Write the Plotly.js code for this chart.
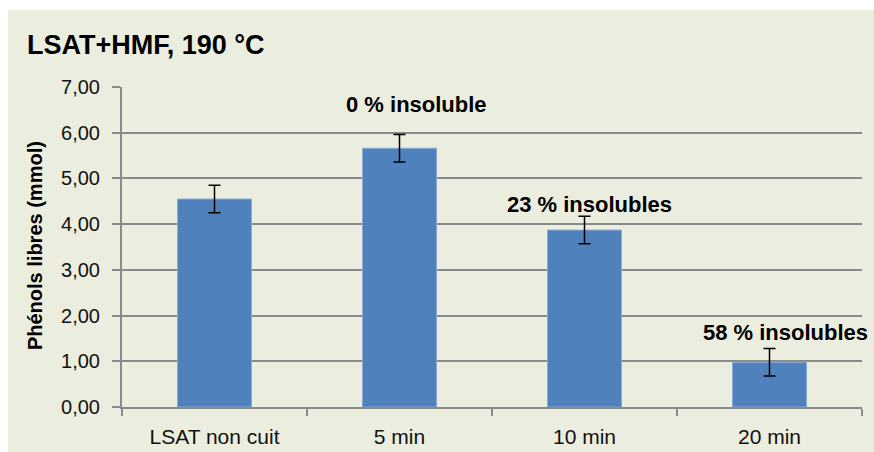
<!DOCTYPE html>
<html>
<head>
<meta charset="utf-8">
<script src="https://cdn.plot.ly/plotly-3.0.1.min.js"></script>
<style>
  html, body { margin: 0; padding: 0; background: #ffffff; }
  #wrap { position: absolute; left: 0; top: 0; width: 874px; height: 452px; background: #ffffff; }
  #chart { position: absolute; left: 8px; top: 10px; width: 866px; height: 442px; }
</style>
</head>
<body>
<div id="wrap"><div id="chart"></div></div>
<script>
const categories = ["LSAT non cuit", "5 min", "10 min", "20 min"];
const phenols = [4.55, 5.66, 3.87, 0.98];
const errors = [0.30, 0.30, 0.30, 0.30];
const noteLabels = ["0 % insoluble", "23 % insolubles", "58 % insolubles"];
const noteCategories = ["5 min", "10 min", "20 min"];
const noteValues = [6.62, 4.43, 1.63];
const noteShift = [17, 5, 16];
const yTicks = [0, 1, 2, 3, 4, 5, 6, 7];

const font = "Liberation Sans, Arial, sans-serif";
const bg = "#EBEDDE";

const trace = {
  type: "bar",
  x: categories,
  y: phenols,
  width: 0.4,
  marker: { color: "#4F81BD", line: { color: "#8AAAD6", width: 1 } },
  error_y: { type: "data", array: errors, visible: true, color: "#000000", thickness: 1.5, width: 6 },
  hoverinfo: "none"
};

const annotations = noteLabels.map((t, i) => ({
  text: "<b>" + t + "</b>",
  x: noteCategories[i], y: noteValues[i], xref: "x", yref: "y",
  xshift: noteShift[i],
  showarrow: false, xanchor: "center", yanchor: "middle",
  font: { family: font, size: 22, color: "#000000" }
}));
annotations.push({
  text: "<b>Phénols libres (mmol)</b>",
  xref: "paper", yref: "paper", x: -0.1176, y: 0.506,
  textangle: -90, showarrow: false, xanchor: "center", yanchor: "middle",
  font: { family: font, size: 20, color: "#000000" }
});

const layout = {
  width: 866, height: 442,
  margin: { l: 114, r: 12, t: 77, b: 45, pad: 0, autoexpand: false },
  paper_bgcolor: bg, plot_bgcolor: bg,
  separators: ", ",
  showlegend: false,
  bargap: 0.6,
  title: {
    text: "<b>LSAT+HMF, 190 °C</b>",
    xref: "container", yref: "container",
    x: 19 / 866, y: 1 - 35 / 442, xanchor: "left", yanchor: "middle",
    font: { family: font, size: 27, color: "#000000" }
  },
  xaxis: {
    type: "category",
    range: [-0.5, 3.5], autorange: false,
    showline: true, linecolor: "#8a8a8a", linewidth: 2,
    ticks: "outside", tickson: "boundaries", ticklen: 7, tickcolor: "#8a8a8a", tickwidth: 2,
    ticklabelstandoff: 10,
    tickfont: { family: font, size: 21, color: "#111111" },
    showgrid: false, zeroline: false
  },
  yaxis: {
    range: [0, 7], autorange: false,
    tickvals: yTicks, tickformat: ".2f",
    showline: true, linecolor: "#8a8a8a", linewidth: 2,
    ticks: "outside", ticklen: 8, tickcolor: "#8a8a8a", tickwidth: 2,
    ticklabelstandoff: 8,
    tickfont: { family: font, size: 20, color: "#111111" },
    showgrid: true, gridcolor: "#8a8a8a", gridwidth: 2,
    zeroline: false
  },
  annotations: annotations
};

Plotly.newPlot("chart", [trace], layout, { displayModeBar: false, staticPlot: true });
</script>
</body>
</html>
